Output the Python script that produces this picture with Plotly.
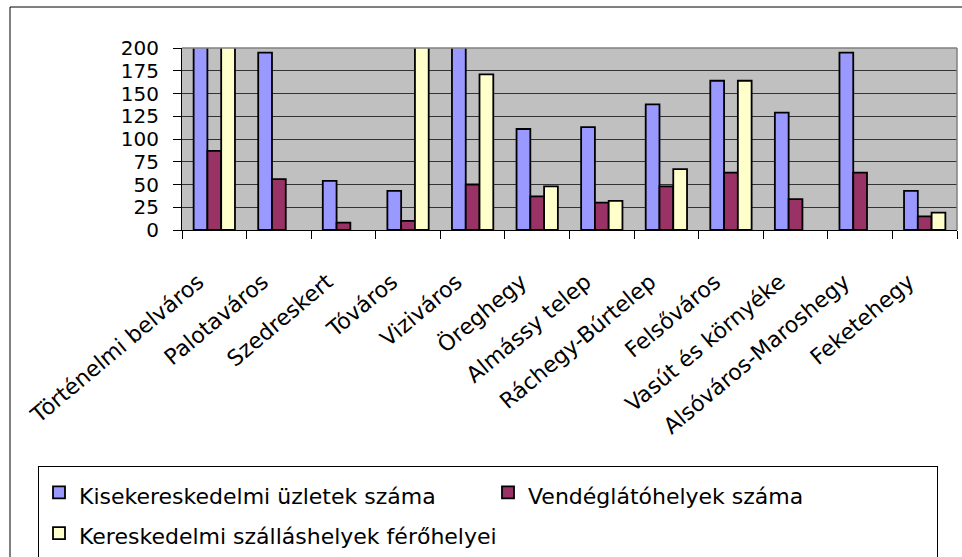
import plotly.graph_objects as go

categories = ["Történelmi belváros", "Palotaváros", "Szedreskert", "Tóváros", "Viziváros",
              "Öreghegy", "Almássy telep", "Ráchegy-Búrtelep", "Felsőváros",
              "Vasút és környéke", "Alsóváros-Maroshegy", "Feketehegy"]
kiskereskedelmi = [320, 195, 54, 43, 260, 111, 113, 138, 164, 129, 195, 43]
vendeglato = [87, 56, 8, 10, 50, 37, 30, 48, 63, 34, 63, 15]
szallashely = [480, None, None, 420, 171, 48, 32, 67, 164, None, None, 19]

series_names = ["Kisekereskedelmi üzletek száma", "Vendéglátóhelyek száma",
                "Kereskedelmi szálláshelyek férőhelyei"]
series_colors = ["#9999FF", "#993366", "#FFFFCC"]
y_ticks = [0, 25, 50, 75, 100, 125, 150, 175, 200]

FONT = "DejaVu Sans"

fig = go.Figure()
for name, vals, col in zip(series_names, [kiskereskedelmi, vendeglato, szallashely], series_colors):
    fig.add_trace(go.Bar(
        x=categories, y=vals,
        name="<span style='font-size:22px'>" + name + "</span>",
        marker=dict(color=col, line=dict(color="black", width=1.8)),
    ))

W, H = 962, 557
L, R, T, B = 182, 5, 48, 327
pw, ph = W - L - R, H - T - B

def px(x):
    return (x - L) / pw

def py(y):
    return (H - B - y) / ph

fig.update_layout(
    width=W, height=H,
    margin=dict(l=L, r=R, t=T, b=B, autoexpand=False),
    paper_bgcolor="white", plot_bgcolor="#C0C0C0",
    barmode="group", bargap=0.36, bargroupgap=0,
    font=dict(family=FONT, color="black"),
    legend=dict(
        orientation="h", x=px(38), xanchor="left", y=py(466), yanchor="top",
        entrywidth=404, entrywidthmode="pixels",
        font=dict(family=FONT, size=29, color="black"),
        bordercolor="black", borderwidth=1, bgcolor="white",
    ),
    xaxis=dict(
        tickangle=-40, tickfont=dict(family=FONT, size=22, color="black"),
        tickvals=categories, ticktext=[c + "\u00a0\u00a0\u00a0" for c in categories],
        showline=True, linecolor="black", linewidth=1,
        ticks="outside", tickson="boundaries", ticklen=8, tickcolor="black",
        showgrid=False, ticklabelstandoff=16,
    ),
    yaxis=dict(
        range=[0, 200], tickvals=y_ticks, ticktext=[str(v) for v in y_ticks],
        tickfont=dict(family=FONT, size=20, color="black"),
        showline=True, linecolor="black", linewidth=1,
        ticks="outside", ticklen=8, tickcolor="black",
        showgrid=True, gridcolor="#333333", gridwidth=1,
        zeroline=False, ticklabelstandoff=10,
    ),
    shapes=[
        dict(type="line", xref="paper", yref="paper", x0=0, x1=1, y0=1, y1=1,
             line=dict(color="#808080", width=1.5), layer="above"),
        dict(type="line", xref="paper", yref="paper", x0=1, x1=1, y0=0, y1=1,
             line=dict(color="#808080", width=1.5), layer="above"),
        dict(type="rect", xref="paper", yref="paper", x0=px(10), x1=px(975),
             y0=py(7), y1=py(575), line=dict(color="black", width=1), layer="above"),
    ],
)

fig.write_html("out.html", config={"displayModeBar": False},
               post_script="document.body.style.margin='0';document.body.style.overflow='hidden';")
